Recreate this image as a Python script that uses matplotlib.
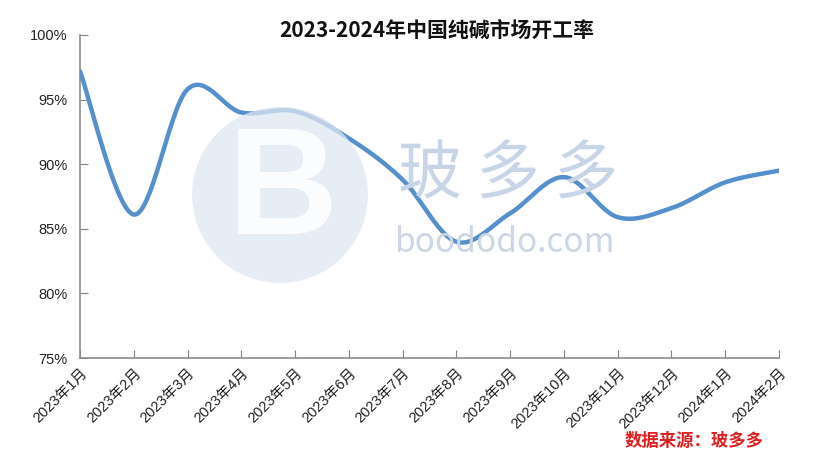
import numpy as np
import matplotlib
matplotlib.use("Agg")
import matplotlib.pyplot as plt
from matplotlib.patches import Circle

plt.rcParams['font.family'] = ['Noto Sans CJK SC', 'DejaVu Sans']

months = ["2023年1月", "2023年2月", "2023年3月", "2023年4月", "2023年5月", "2023年6月",
          "2023年7月", "2023年8月", "2023年9月", "2023年10月", "2023年11月", "2023年12月",
          "2024年1月", "2024年2月"]
rates = [97.2, 86.1, 95.8, 94.0, 94.1, 92.0, 88.8, 84.0, 86.2, 89.0, 85.9, 86.6, 88.6, 89.5]
yticks = [75, 80, 85, 90, 95, 100]
title = "2023-2024年中国纯碱市场开工率"
source = "数据来源：玻多多"


def smooth(xs, ys, n=30):
    # Catmull-Rom style smoothing (like Excel "smoothed line")
    xs = np.asarray(xs, float)
    ys = np.asarray(ys, float)
    px = np.concatenate([[xs[0]], xs, [xs[-1]]])
    py = np.concatenate([[ys[0]], ys, [ys[-1]]])
    ox, oy = [], []
    for i in range(1, len(px) - 2):
        p0, p1, p2, p3 = (np.array([px[j], py[j]]) for j in (i - 1, i, i + 1, i + 2))
        c1 = p1 + (p2 - p0) / 6.0
        c2 = p2 - (p3 - p1) / 6.0
        t = np.linspace(0, 1, n, endpoint=(i == len(px) - 3))
        b = ((1 - t) ** 3)[:, None] * p1 + (3 * (1 - t) ** 2 * t)[:, None] * c1 + \
            (3 * (1 - t) * t ** 2)[:, None] * c2 + (t ** 3)[:, None] * p2
        ox.extend(b[:, 0]); oy.extend(b[:, 1])
    return np.array(ox), np.array(oy)


fig = plt.figure(figsize=(8.17, 4.62), dpi=100)
ax = fig.add_axes([80 / 817, 1 - 358 / 462, (779 - 80) / 817, (358 - 35) / 462])

# faint watermark (logo circle + brand text)
wm = Circle((2.80, 4.62 - 1.95), 0.88, transform=fig.dpi_scale_trans,
            facecolor="#dfe8f2", edgecolor="none", alpha=0.75, zorder=0)
fig.patches.append(wm)
fig.text(283 / 817, 1 - 195 / 462, "B", fontsize=110, color="white", alpha=0.85,
         ha="center", va="center", fontweight="bold", zorder=0,
         family=["Liberation Sans", "DejaVu Sans"])
fig.text(508 / 817, 1 - 175 / 462, "玻 多 多", fontsize=46, color="#c8d5e7",
         ha="center", va="center", zorder=0)
fig.text(505 / 817, 1 - 243 / 462, "boododo.com", fontsize=24, color="#ccd6e4",
         ha="center", va="center", zorder=0)
ax.set_facecolor("none")

x = np.arange(len(months))
sx, sy = smooth(x, rates)
ax.plot(sx, sy, color="#5590cd", lw=3.2, solid_capstyle="round", zorder=3)

ax.set_xlim(0, len(months) - 1)
ax.set_ylim(75, 100)
ax.set_yticks(yticks)
ax.set_yticklabels([f"{v}%" for v in yticks], fontsize=10.5, color="#222222",
                   family=["Liberation Sans", "DejaVu Sans"])
ax.set_xticks(x)
ax.set_xticklabels(months, rotation=45, ha="right", va="top", fontsize=10.5,
                   color="#222222", rotation_mode="anchor",
                   family=["Liberation Sans", "Noto Sans CJK SC"])
ax.tick_params(axis="x", direction="in", length=6, color="#808080", pad=6)
ax.tick_params(axis="y", direction="in", length=6, color="#808080", pad=9)
for s in ("top", "right"):
    ax.spines[s].set_visible(False)
for s in ("left", "bottom"):
    ax.spines[s].set_color("#8c8c8c")
    ax.spines[s].set_linewidth(1.2)

fig.text(437 / 817, 1 - 30 / 462, title, fontsize=15, fontweight="bold",
         ha="center", va="center", color="#111111")
fig.text(694 / 817, 1 - 441 / 462, source, fontsize=12.5, fontweight="bold",
         ha="center", va="center", color="#e02020")

fig.savefig("out.png", dpi=100)
